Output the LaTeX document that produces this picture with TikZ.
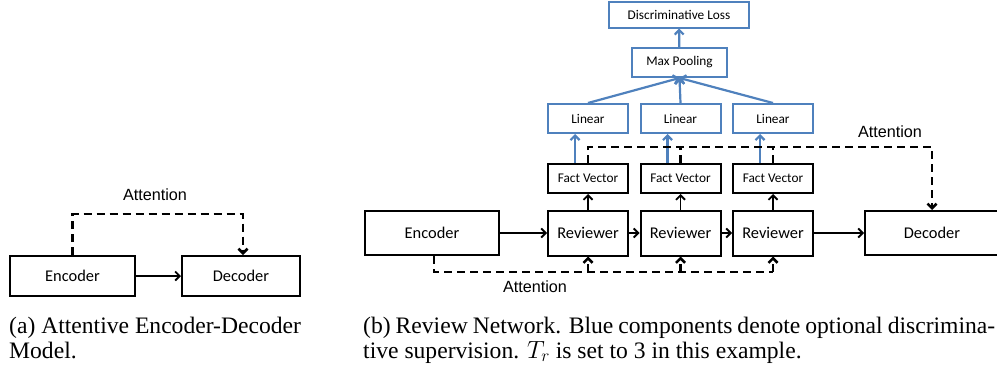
\documentclass[tikz,border=0pt]{standalone}
\usepackage{fontspec}
\setmainfont{Liberation Serif}
\newfontfamily\boxfont{Carlito}
\newfontfamily\attnfont{Liberation Sans}
\usetikzlibrary{arrows.meta}
\definecolor{optblue}{RGB}{79,129,189}
\tikzset{
  blk/.style={draw=black, line width=2pt, inner sep=0pt,
    font=\boxfont\fontsize{16.4}{19}\selectfont},
  blksmall/.style={blk, font=\boxfont\fontsize{13.3}{16}\selectfont},
  optbox/.style={blksmall, draw=optblue},
  flow/.style={line width=1.8pt, -{Straight Barb[length=4.5pt,width=9pt]}},
  optflow/.style={flow, line width=2.2pt, draw=optblue},
  attn/.style={line width=2.6pt, dash pattern=on 8pt off 5pt},
  attnlabel/.style={inner sep=0pt, font=\attnfont\fontsize{16.2}{19}\selectfont},
  capline/.style={anchor=base west, inner sep=0pt, font=\fontsize{23.6}{25}\selectfont}
}

\begin{document}
\begin{tikzpicture}[x=1pt, y=-1pt]
  \clip (0,0) rectangle (997,370);

  % (a) encoder-decoder with attention
  \node[blk, minimum width=125pt, minimum height=40pt] (enca) at (72.5,276) {Encoder};
  \node[blk, minimum width=118pt, minimum height=40pt] (deca) at (241,276) {Decoder};
  \coordinate (atta) at (158,214);
  \node[attnlabel] (attalabel) at (155,195) {Attention};
  \draw[flow] (enca) -- (deca);
  \draw[flow, attn] (enca.north) |- (atta) -| ([xshift=2pt]deca.north);

  % (b) review network
  \node[blk, minimum width=134pt, minimum height=44pt] (enc) at (432,233) {Encoder};
  \node[blk, minimum width=134pt, minimum height=44pt] (dec) at (932,233) {Decoder};
  \foreach \i in {1,2,3} {%
    \pgfmathsetmacro{\x}{588+92.5*(\i-1)}
    \node[blk, minimum width=80pt, minimum height=45pt] (rev\i) at (\x,233) {Reviewer};
    \node[blksmall, minimum width=80pt, minimum height=29pt] (fact\i) at (\x,178.5) {Fact Vector};
    \node[optbox, minimum width=80pt, minimum height=29pt] (lin\i) at (\x,118.5) {Linear};
    \draw[flow] (rev\i) -- (fact\i);
    \draw[optflow] ([xshift=-13pt]fact\i.north) -- ([xshift=-13pt]lin\i.south);
  }%
  \node[optbox, minimum width=95pt, minimum height=29pt] (pool) at (679.5,62.5) {Max Pooling};
  \node[optbox, minimum width=140pt, minimum height=26pt] (loss) at (679,14.5) {Discriminative Loss};
  \foreach \i in {1,2,3} \draw[optflow] (lin\i.north) -- (pool.south);
  \draw[optflow] (pool) -- (loss);

  \draw[flow] (enc) -- (rev1);
  \draw[flow] (rev1) -- (rev2);
  \draw[flow] (rev2) -- (rev3);
  \draw[flow] (rev3) -- (dec);

  % attention paths
  \coordinate (atttop) at (932,147);
  \draw[flow, attn] (fact1.north) |- (atttop) -- (dec.north);
  \draw[attn] (fact2.north) -- (fact2.north |- atttop);
  \draw[attn] (fact3.north) -- (fact3.north |- atttop);
  \node[attnlabel] (attlabeltop) at (890,132) {Attention};

  \coordinate (attbot) at (773,272);
  \draw[attn] ([xshift=2pt]enc.south) |- (attbot);
  \foreach \i in {1,2,3} \draw[flow, attn] (rev\i.south |- attbot) -- (rev\i.south);
  \node[attnlabel] (attlabelbot) at (535,287) {Attention};

  % captions
  \node[capline] (capa1) at (9,333) {(a) Attentive Encoder-Decoder};
  \node[capline] (capa2) at (9,358) {Model.};
  \node[capline] (capb1) at (363,333) {\makebox[632pt][s]{(b) Review Network. Blue components denote optional discrimina-}};
  \node[capline] (capb2) at (363,358) {tive supervision. $T_r$ is set to 3 in this example.};
\end{tikzpicture}
\end{document}
